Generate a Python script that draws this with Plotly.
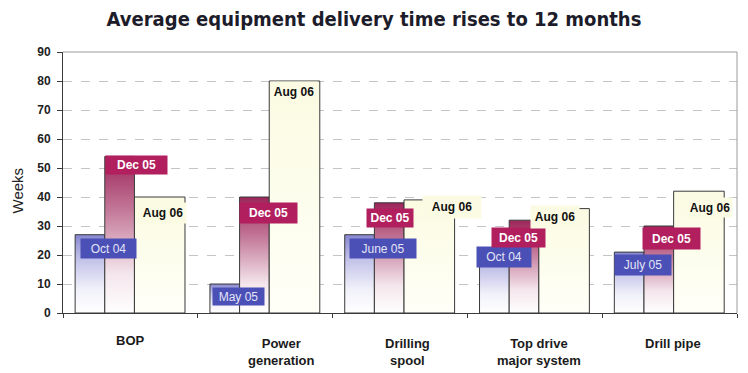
import plotly.graph_objects as go

# ---------------- data ----------------
categories = ["BOP", "Power<br>generation", "Drilling<br>spool", "Top drive<br>major system", "Drill pipe"]
first_labels = ["Oct 04", "May 05", "June 05", "Oct 04", "July 05"]
dec05_label = "Dec 05"
aug06_label = "Aug 06"
first_values = [27, 10, 27, 22, 21]
dec05_values = [54, 40, 38, 32, 30]
aug06_values = [40, 80, 39, 36, 42]
y_ticks = [0, 10, 20, 30, 40, 50, 60, 70, 80, 90]

# ---------------- styles ----------------
bar_offset = 0.09
bar_widths = [0.22, 0.22, 0.375]
blue_scale = [[0, "#ffffff"], [0.3, "#f1f1fa"], [0.7, "#c0c0e8"], [1, "#8686d0"]]
red_scale = [[0, "#ffffff"], [0.25, "#f4e6ec"], [0.65, "#c47a9a"], [1, "#9c2559"]]
pale_scale = [[0, "#fffff8"], [1, "#fbfbe2"]]
box_blue = "#4a50b6"
box_red = "#b11f5e"
box_pale = "#fbfbe4"
outline = "#3a3a3a"

# label offsets (pixels) relative to the top-centre of each bar: (dx, dy down, w, h)
first_lab_style = [(19, 14, 55, 19), (14, 12, 51, 17), (23, 14, 66, 19), (10, 8, 54, 20), (14, 13, 56, 20)]
dec_lab_style = [(17, 9, 61, 18), (14, 16, 57, 20), (1, 15, 46, 18), (-6, 17, 53, 19), (13, 12, 57, 21)]
aug_lab_style = [(3, 16, 46, 20), (-1, 11, 46, 20), (23, 7, 58, 22), (-9, 8, 48, 22), (11, 16, 44, 19)]
cat_shift = [(0, -18), (16, -21), (7, -21), (4, -21), (3, -21)]

fig = go.Figure()

series = [
    (first_values, blue_scale),
    (dec05_values, red_scale),
    (aug06_values, pale_scale),
]

def bar_x(i, j):
    x0 = i + bar_offset + sum(bar_widths[:j])
    return x0, x0 + bar_widths[j]

for j, (vals, cs) in enumerate(series):
    for i, v in enumerate(vals):
        x0, x1 = bar_x(i, j)
        fig.add_trace(go.Scatter(
            x=[x0, x0, x1, x1, x0], y=[0, v, v, 0, 0],
            mode="lines", fill="toself",
            fillgradient=dict(type="vertical", colorscale=cs),
            line=dict(color=outline, width=1),
            hoverinfo="skip", showlegend=False,
        ))

annotations = []
label_sets = [
    (first_values, first_labels, first_lab_style, box_blue, "#e4e4f7", False),
    (dec05_values, [dec05_label] * 5, dec_lab_style, box_red, "#ffffff", True),
    (aug06_values, [aug06_label] * 5, aug_lab_style, box_pale, "#111111", True),
]
for j, (vals, texts, styles, bg, fc, bold) in enumerate(label_sets):
    for i, v in enumerate(vals):
        x0, x1 = bar_x(i, j)
        dx, dy, w, h = styles[i]
        t = f"<b>{texts[i]}</b>" if bold else texts[i]
        annotations.append(dict(
            x=(x0 + x1) / 2, y=v, xref="x", yref="y",
            xshift=dx, yshift=-dy, text=t, showarrow=False,
            bgcolor=bg, width=w, height=h, borderpad=0,
            font=dict(family="Liberation Sans, Arial", size=12, color=fc),
            xanchor="center", yanchor="middle",
        ))

for i, c in enumerate(categories):
    dx, dy = cat_shift[i]
    annotations.append(dict(
        x=i + 0.5, y=0, xref="x", yref="y", xshift=dx, yshift=dy,
        text=f"<b>{c}</b>", showarrow=False, xanchor="center", yanchor="top",
        font=dict(family="Liberation Sans, Arial", size=13, color="#1a1a1a"),
    ))

annotations.append(dict(
    x=-0.068, y=0.47, xref="paper", yref="paper", text="Weeks", textangle=-90,
    xanchor="center", yanchor="middle",
    showarrow=False, font=dict(family="Liberation Sans, Arial", size=15, color="#222222"),
))

# the page body adds an 8px margin, so the figure is 8px smaller than the window
fig.update_layout(
    width=740, height=365,
    margin=dict(l=55, r=11, t=44, b=60),
    paper_bgcolor="#ffffff", plot_bgcolor="#ffffff",
    title=dict(
        text="<b>Average equipment delivery time rises to 12 months</b>",
        x=0.4946, xref="container", xanchor="center",
        y=0.99, yref="container", yanchor="top",
        pad=dict(t=0),
        font=dict(family="Liberation Sans Narrow, DejaVu Sans Condensed, Arial Narrow", size=20, color="#1c1c2a"),
    ),
    annotations=annotations,
    shapes=[
        dict(type="line", xref="paper", yref="paper", x0=0, x1=1, y0=1, y1=1,
             line=dict(color="#9a9a9a", width=1)),
        dict(type="line", xref="paper", yref="paper", x0=1, x1=1, y0=0, y1=1,
             line=dict(color="#9a9a9a", width=1)),
    ],
    xaxis=dict(
        range=[0, 5], tickvals=[0, 1, 2, 3, 4, 5], ticktext=[""] * 6,
        ticks="outside", ticklen=4, tickcolor=outline,
        showline=True, linecolor=outline, linewidth=1,
        showgrid=False, zeroline=False, fixedrange=True,
    ),
    yaxis=dict(
        range=[0, 90], tickvals=y_ticks, ticktext=[f"<b>{t}</b>" for t in y_ticks],
        ticks="outside", ticklen=5, tickcolor=outline, ticklabelstandoff=4,
        tickfont=dict(family="Liberation Sans, Arial", size=12, color="#222222"),
        showline=True, linecolor=outline, linewidth=1,
        showgrid=True, gridcolor="#c4c4c4", griddash="dash", gridwidth=1,
        zeroline=False, fixedrange=True,
    ),
)

fig.write_html("out.html")
